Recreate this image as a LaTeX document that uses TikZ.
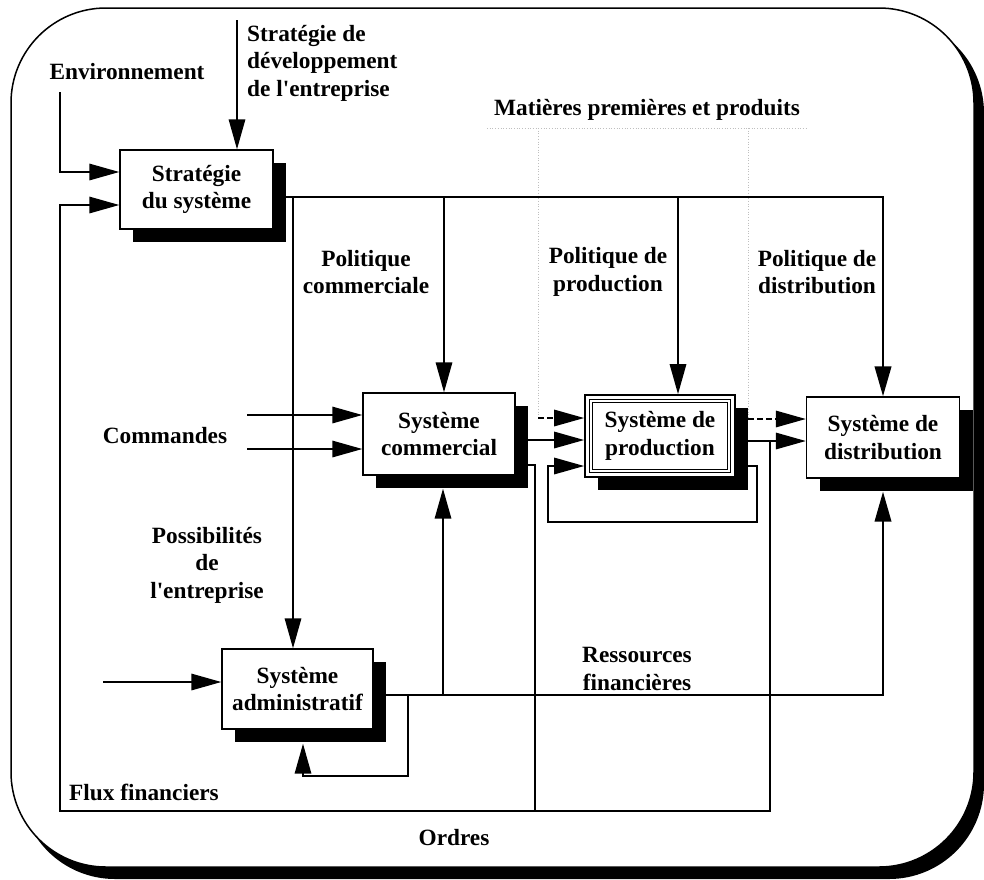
\documentclass[tikz,border=0pt]{standalone}
\usepackage{fontspec}
\setmainfont{Liberation Serif}
\newfontfamily\diagfont{Liberation Serif}
\usetikzlibrary{arrows.meta,shadows,calc}
\pgfdeclarelayer{frame}
\pgfdeclarelayer{bg}
\pgfsetlayers{frame,bg,main}
\begin{document}
\begin{tikzpicture}[x=1pt,y=-1pt,
  txt/.style={font=\diagfont\fontsize{23.3}{27.5}\selectfont\bfseries},
  sys/.style={txt, draw, line width=1.4pt, fill=white, align=center, inner sep=2pt,
    drop shadow={shadow xshift=13pt, shadow yshift=-13pt, fill=black, opacity=1}},
  lbl/.style={txt, align=center, inner sep=0pt},
  ln/.style={line width=1.6pt},
  arr/.style={line width=1.6pt, -{Triangle[length=30pt,width=16.5pt]}},
  dsh/.style={arr, dash pattern=on 6pt off 3pt},
  mat/.style={gray!50, dotted, line width=0.7pt}]
\useasboundingbox (0,0) rectangle (984,879);

% frame
\begin{pgfonlayer}{frame}
  \fill[black, rounded corners=95pt] (20,18) rectangle (984,879);
  \draw[fill=white, line width=1.5pt, rounded corners=95pt] (11,8) rectangle (974,867);
\end{pgfonlayer}

% boxes
\node[sys, minimum width=153pt, minimum height=79pt] (strat) at (196.5,189.5) {Stratégie\\du système};
\node[sys, minimum width=152pt, minimum height=82pt] (comm) at (439,434) {Système\\commercial};
\node[sys, minimum width=150pt, minimum height=82pt, line width=1.8pt] (prod) at (660,436) {Système de\\production};
\draw[double, double distance=1.6pt, line width=0.9pt] ($(prod.north west)+(7,7)$) rectangle ($(prod.south east)+(-7,-7)$);
\node[sys, minimum width=153pt, minimum height=81pt] (dist) at (883,437.5) {Système de\\distribution};
\node[sys, minimum width=151pt, minimum height=80pt] (admin) at (297.5,689) {Système\\administratif};

% labels
\node[lbl] (lenv) at (127,72) {Environnement};
\node[lbl, align=left, anchor=west] (ldev) at (247,63) {Stratégie de\\développement\\de l'entreprise};
\node[lbl] (lmat) at (647,110) {Matières premières et produits};
\node[lbl] (lpc) at (366,272) {Politique\\commerciale};
\node[lbl] (lpp) at (608,272) {Politique de\\production};
\node[lbl] (lpd) at (817,272) {Politique de\\distribution};
\node[lbl] (lcmd) at (165,436) {Commandes};
\node[lbl] (lposs) at (207,565) {Possibilités\\de\\l'entreprise};
\node[lbl] (lres) at (637,669) {Ressources\\financières};
\node[lbl] (lflux) at (144,792) {Flux financiers};
\node[lbl] (lord) at (454,838) {Ordres};

% coordinates
\coordinate (envtop) at (60,92);
\coordinate (devtop) at (237,20);
\coordinate (sbus) at ($(strat.east)+(0,7.5)$);
\coordinate (cN) at ($(comm.north)+(5,0)$);
\coordinate (pN) at ($(prod.north)+(18,0)$);
\coordinate (aN) at ($(admin.north)+(-4.5,0)$);
\coordinate (cmdx) at (247,0);
\coordinate (cW1) at ($(comm.west)+(0,-19)$);
\coordinate (cW2) at ($(comm.west)+(0,15)$);
\coordinate (cE1) at ($(comm.east)+(0,6)$);
\coordinate (cE2) at ($(comm.east)+(0,31)$);
\coordinate (mA) at (538,418);
\coordinate (mB) at (748,419);
\coordinate (mL) at (487,128);
\coordinate (mR) at (808,128);
\coordinate (bot) at (60,811);
\coordinate (ordx) at (535,811);
\coordinate (pE1) at ($(prod.east)+(0,5)$);
\coordinate (pE3) at ($(prod.east)+(0,30)$);
\coordinate (loopR) at (757,522);
\coordinate (loopL) at (548,522);
\coordinate (ffx) at (770,441);
\coordinate (aE) at ($(admin.east)+(0,6)$);
\coordinate (aW) at ($(admin.west)+(0,-7)$);
\coordinate (adin) at (103,0);
\coordinate (dS) at ($(dist.south)+(0,13)$);
\coordinate (cS) at ($(comm.south)+(4,13)$);
\coordinate (aS) at ($(admin.south)+(5.5,14)$);
\coordinate (lpR) at (408,776);

\begin{pgfonlayer}{bg}
  % material flow (faint)
  \draw[mat] (mL) -- (mR);
  \draw[mat] (mA |- mL) -- (mA);
  \draw[mat] (mB |- mL) -- (mB);
  % strategy inputs
  \draw[arr] (envtop) |- ($(strat.west)+(0,-17.5)$);
  \draw[arr] (devtop) -- (devtop |- strat.north);
  % strategy bus
  \draw[arr, line width=2.4pt] (sbus) -| (dist.north);
  \draw[arr] (sbus -| cN) -- (cN);
  \draw[arr] (sbus -| pN) -- (pN);
  \draw[arr] (sbus -| aN) -- (aN);
  % commandes
  \draw[arr] (cW1 -| cmdx) -- (cW1);
  \draw[arr] (cW2 -| cmdx) -- (cW2);
  % commercial -> production
  \draw[dsh] (mA) -- (mA -| prod.west);
  \draw[arr] (cE1) -- (cE1 -| prod.west);
  \draw[ln] (cE2) -| (ordx);
  % production loop
  \draw[arr] (pE3) -| (loopR) -- (loopL) |- (prod.west |- pE3);
  % production -> distribution
  \draw[dsh] (mB) -- (mB -| dist.west);
  \draw[arr] (pE1) -- (pE1 -| dist.west);
  % financial feedback
  \draw[arr] (ffx) |- (bot) |- ($(strat.west)+(0,15.5)$);
  % administrative
  \draw[arr] (aW -| adin) -- (aW);
  \draw[arr, line width=2.2pt] (aE) -| (dS);
  \draw[arr] (aE -| cS) -- (cS);
  \draw[arr] (aE -| lpR) -- (lpR) -| (aS);
\end{pgfonlayer}
\end{tikzpicture}
\end{document}
